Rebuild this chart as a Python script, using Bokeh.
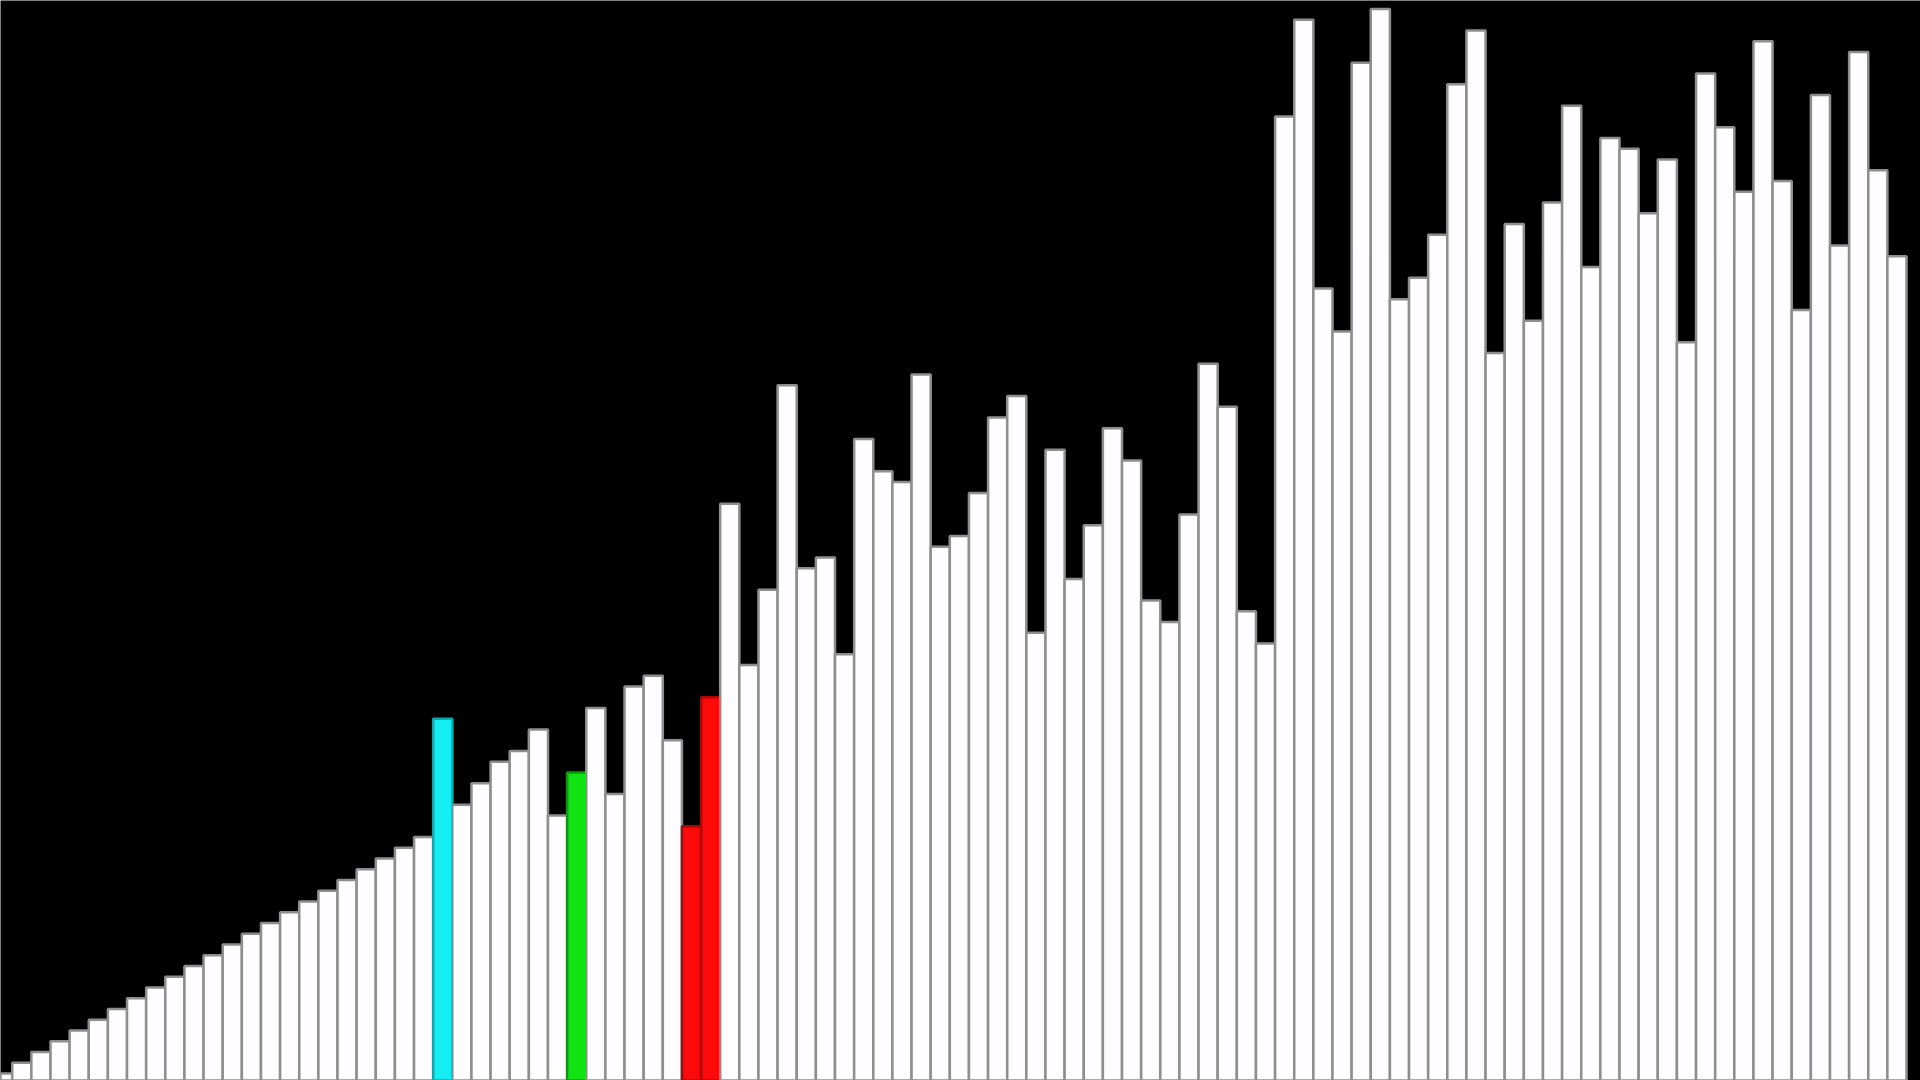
from bokeh.plotting import figure
from bokeh.models import ColumnDataSource, Range1d
from bokeh.embed import file_html
from bokeh.resources import INLINE

# Bar values (a permutation of 1..100) read left to right
values = [
    1, 2, 3, 4, 5, 6, 7, 8, 9, 10,
    11, 12, 13, 14, 15, 16, 17, 18, 19, 20,
    21, 22, 23, 34, 26, 28, 30, 31, 33, 25,
    29, 35, 27, 37, 38, 32, 24, 36, 54, 39,
    46, 65, 48, 49, 40, 60, 57, 56, 66, 50,
    51, 55, 62, 64, 42, 59, 47, 52, 61, 58,
    45, 43, 53, 67, 63, 44, 41, 90, 99, 74,
    70, 95, 100, 73, 75, 79, 93, 98, 68, 80,
    71, 82, 91, 76, 88, 87, 81, 86, 69, 94,
    89, 83, 97, 84, 72, 92, 78, 96, 85, 77,
]

# Highlighted bars (positions) by state
cyan_bars = [23]
green_bars = [30]
red_bars = [36, 37]

positions = list(range(len(values)))

fills = []
lines = []
for i in positions:
    if i in cyan_bars:
        fills.append("#14eef2"); lines.append("#0aa8ad")
    elif i in green_bars:
        fills.append("#12e312"); lines.append("#0b9a0b")
    elif i in red_bars:
        fills.append("#fb0a0a"); lines.append("#b00505")
    else:
        fills.append("#fdfcfe"); lines.append("#8e8e8e")

src = ColumnDataSource(dict(x=positions, top=values, fill=fills, line=lines))

p = figure(
    width=1920, height=1080,
    x_range=Range1d(-0.113, 100.23), y_range=Range1d(0.34, 100.8),
    x_axis_type=None, y_axis_type=None,
    output_backend="svg", toolbar_location=None,
    min_border=0, min_border_left=0, min_border_right=0,
    min_border_top=0, min_border_bottom=0,
    background_fill_color="black", border_fill_color="black",
)
p.outline_line_color = None
p.outline_line_alpha = 0
p.grid.visible = False

p.vbar(x="x", top="top", bottom=-3, width=1.0, source=src,
       fill_color="fill", line_color="line", line_width=2.5)

html = file_html(p, INLINE)
html = html.replace("<body>", '<body style="margin:0;padding:0;background:#000;overflow:hidden">', 1)
open("out.html", "w").write(html)
